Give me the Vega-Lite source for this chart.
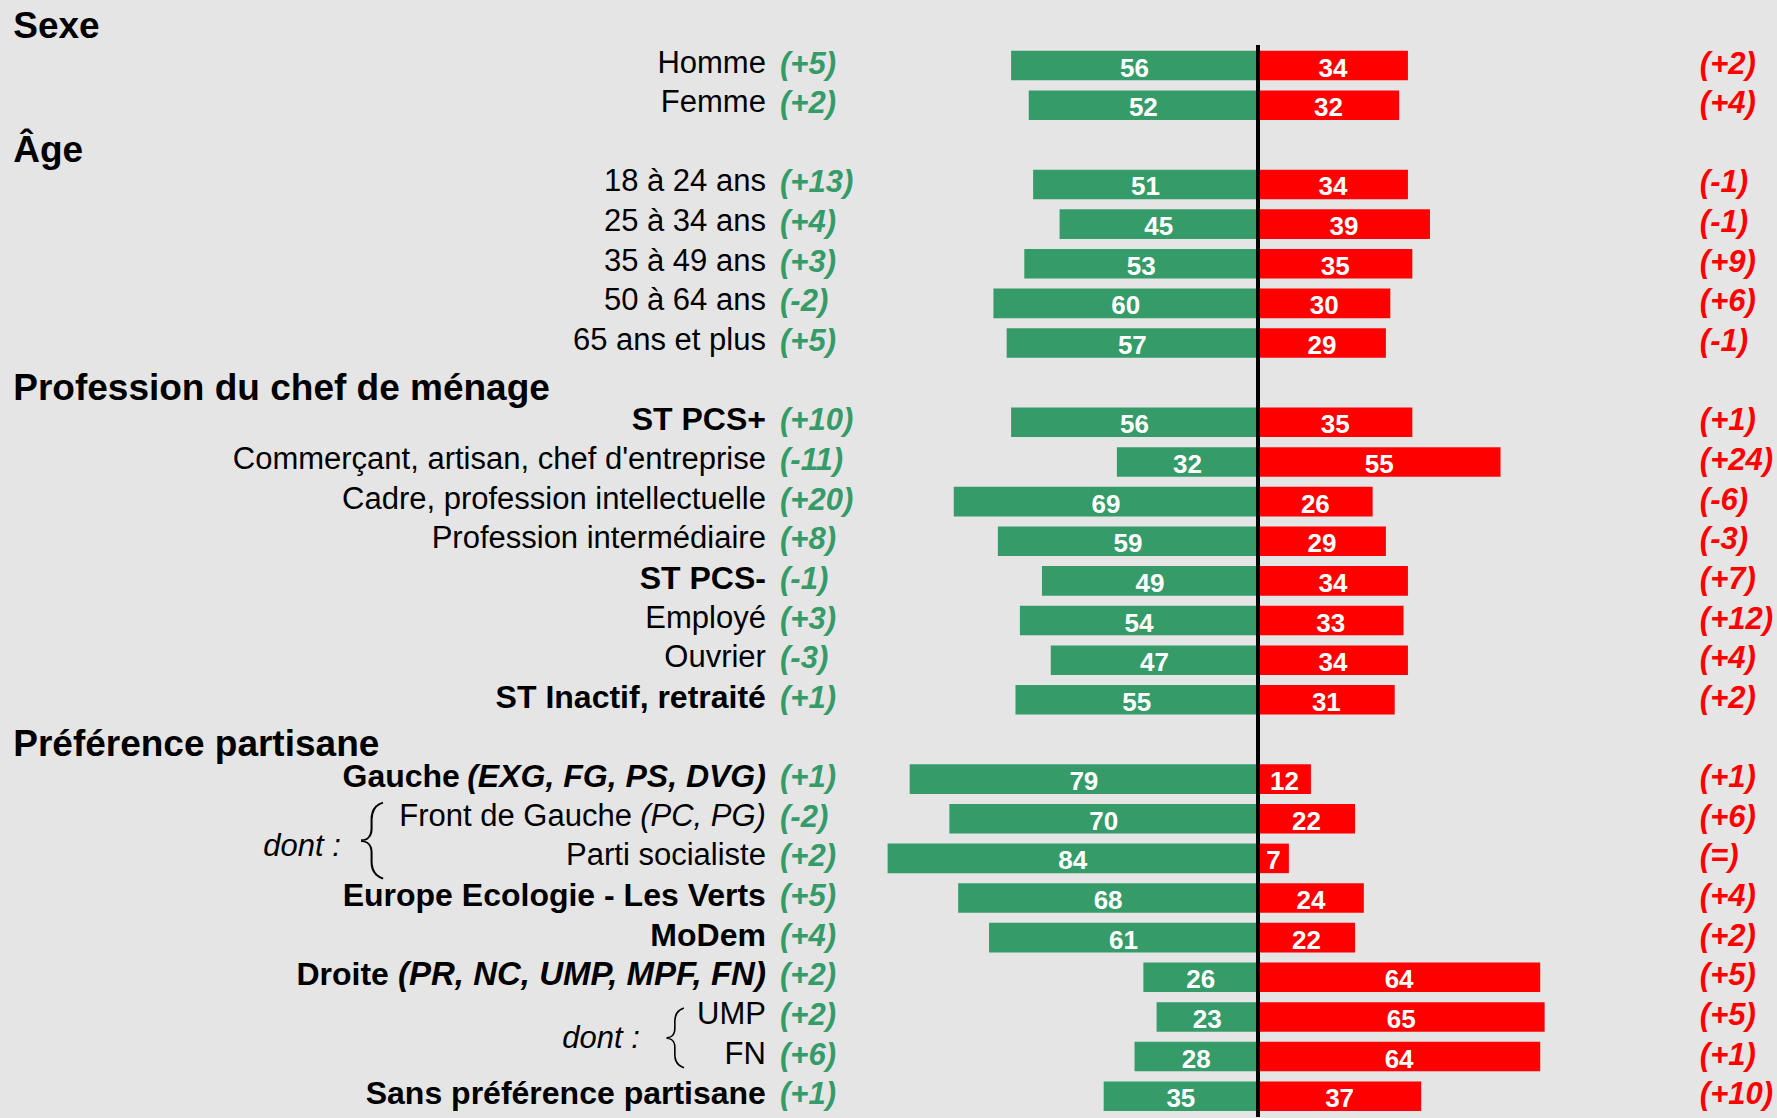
{
  "$schema": "https://vega.github.io/schema/vega-lite/v6.json",
  "width": 1777,
  "height": 1118,
  "autosize": {"type": "fit", "contains": "padding"},
  "padding": 0,
  "background": "#e5e5e5",
  "config": {"view": {"stroke": null}, "font": "Liberation Sans", "text": {"font": "Liberation Sans"}},
  "data": {"values": [
    {"row": 0, "kind": "header", "label": "Sexe"},
    {"row": 1, "kind": "item", "label": "Homme", "evoG": "(+5)", "green": 56, "red": 34, "evoR": "(+2)"},
    {"row": 2, "kind": "item", "label": "Femme", "evoG": "(+2)", "green": 52, "red": 32, "evoR": "(+4)"},
    {"row": 3, "kind": "header", "label": "Âge"},
    {"row": 4, "kind": "item", "label": "18 à 24 ans", "evoG": "(+13)", "green": 51, "red": 34, "evoR": "(-1)"},
    {"row": 5, "kind": "item", "label": "25 à 34 ans", "evoG": "(+4)", "green": 45, "red": 39, "evoR": "(-1)"},
    {"row": 6, "kind": "item", "label": "35 à 49 ans", "evoG": "(+3)", "green": 53, "red": 35, "evoR": "(+9)"},
    {"row": 7, "kind": "item", "label": "50 à 64 ans", "evoG": "(-2)", "green": 60, "red": 30, "evoR": "(+6)"},
    {"row": 8, "kind": "item", "label": "65 ans et plus", "evoG": "(+5)", "green": 57, "red": 29, "evoR": "(-1)"},
    {"row": 9, "kind": "header", "label": "Profession du chef de ménage"},
    {"row": 10, "kind": "total", "label": "ST PCS+", "evoG": "(+10)", "green": 56, "red": 35, "evoR": "(+1)"},
    {"row": 11, "kind": "item", "label": "Commerçant, artisan, chef d'entreprise", "evoG": "(-11)", "green": 32, "red": 55, "evoR": "(+24)"},
    {"row": 12, "kind": "item", "label": "Cadre, profession intellectuelle", "evoG": "(+20)", "green": 69, "red": 26, "evoR": "(-6)"},
    {"row": 13, "kind": "item", "label": "Profession intermédiaire", "evoG": "(+8)", "green": 59, "red": 29, "evoR": "(-3)"},
    {"row": 14, "kind": "total", "label": "ST PCS-", "evoG": "(-1)", "green": 49, "red": 34, "evoR": "(+7)"},
    {"row": 15, "kind": "item", "label": "Employé", "evoG": "(+3)", "green": 54, "red": 33, "evoR": "(+12)"},
    {"row": 16, "kind": "item", "label": "Ouvrier", "evoG": "(-3)", "green": 47, "red": 34, "evoR": "(+4)"},
    {"row": 17, "kind": "total", "label": "ST Inactif, retraité", "evoG": "(+1)", "green": 55, "red": 31, "evoR": "(+2)"},
    {"row": 18, "kind": "header", "label": "Préférence partisane"},
    {"row": 19, "kind": "total", "label": "Gauche", "paren": "(EXG, FG, PS, DVG)", "evoG": "(+1)", "green": 79, "red": 12, "evoR": "(+1)"},
    {"row": 20, "kind": "item", "label": "Front de Gauche", "paren": "(PC, PG)", "note": "dont :", "evoG": "(-2)", "green": 70, "red": 22, "evoR": "(+6)"},
    {"row": 21, "kind": "item", "label": "Parti socialiste", "evoG": "(+2)", "green": 84, "red": 7, "evoR": "(=)"},
    {"row": 22, "kind": "total", "label": "Europe Ecologie - Les Verts", "evoG": "(+5)", "green": 68, "red": 24, "evoR": "(+4)"},
    {"row": 23, "kind": "total", "label": "MoDem", "evoG": "(+4)", "green": 61, "red": 22, "evoR": "(+2)"},
    {"row": 24, "kind": "total", "label": "Droite", "paren": "(PR, NC, UMP, MPF, FN)", "evoG": "(+2)", "green": 26, "red": 64, "evoR": "(+5)"},
    {"row": 25, "kind": "item", "label": "UMP", "note": "dont :", "evoG": "(+2)", "green": 23, "red": 65, "evoR": "(+5)"},
    {"row": 26, "kind": "item", "label": "FN", "evoG": "(+6)", "green": 28, "red": 64, "evoR": "(+1)"},
    {"row": 27, "kind": "total", "label": "Sans préférence partisane", "evoG": "(+1)", "green": 35, "red": 37, "evoR": "(+10)"}
  ]},
  "encoding": {
    "y": {"field": "row", "type": "ordinal", "axis": null,
      "scale": {"domain": [0,1,2,3,4,5,6,7,8,9,10,11,12,13,14,15,16,17,18,19,20,21,22,23,24,25,26,27],
        "paddingInner": 0.254, "paddingOuter": 0.1655, "align": 0.848}}
  },
  "resolve": {"scale": {"x": "independent"}},
  "layer": [
    {
      "transform": [{"filter": "isValid(datum.green)"}],
      "mark": {"type": "bar", "color": "#359b69"},
      "encoding": {
        "x": {"field": "green", "type": "quantitative", "axis": null, "scale": {"domain": [-117.7, 285.3], "reverse": true, "nice": false, "zero": false}},
        "x2": {"datum": 0}
      }
    },
    {
      "transform": [{"filter": "isValid(datum.red)"}],
      "mark": {"type": "bar", "color": "#ff0000"},
      "encoding": {
        "x": {"field": "red", "type": "quantitative", "axis": null, "scale": {"domain": [-285.3, 117.7], "nice": false, "zero": false}},
        "x2": {"datum": 0}
      }
    },
    {
      "transform": [{"filter": "isValid(datum.green)"}],
      "mark": {"type": "text", "color": "#ffffff", "fontWeight": "bold", "fontSize": 26, "align": "center", "baseline": "middle", "dy": 3},
      "encoding": {
        "x": {"field": "green", "type": "quantitative", "axis": null, "scale": {"domain": [-235.4, 570.6], "reverse": true, "nice": false, "zero": false}},
        "text": {"field": "green", "type": "quantitative"}
      }
    },
    {
      "transform": [{"filter": "isValid(datum.red)"}],
      "mark": {"type": "text", "color": "#ffffff", "fontWeight": "bold", "fontSize": 26, "align": "center", "baseline": "middle", "dy": 3},
      "encoding": {
        "x": {"field": "red", "type": "quantitative", "axis": null, "scale": {"domain": [-570.6, 235.4], "nice": false, "zero": false}},
        "text": {"field": "red", "type": "quantitative"}
      }
    },
    {
      "encoding": {
        "x": {"datum": 0, "type": "quantitative", "axis": null, "scale": {"domain": [-285.3, 117.7], "nice": false, "zero": false}}
      },
      "layer": [
        {
          "mark": {"type": "rule", "color": "#000000", "strokeWidth": 3, "yOffset": -5, "y2Offset": 20},
          "encoding": {
            "y": {"datum": 1, "type": "ordinal", "bandPosition": 0},
            "y2": {"datum": 27}
          }
        },
        {
          "transform": [{"filter": "datum.kind === 'header' && datum.row === 0"}],
          "mark": {"type": "text", "align": "left", "baseline": "middle", "fontSize": 37, "fontWeight": "bold", "color": "#000000", "dy": 1},
          "encoding": {"x": {"datum": -282.3}, "text": {"field": "label"}}
        },
        {
          "transform": [{"filter": "datum.kind === 'header' && datum.row > 0"}],
          "mark": {"type": "text", "align": "left", "baseline": "middle", "fontSize": 37, "fontWeight": "bold", "color": "#000000", "dy": 6},
          "encoding": {"x": {"datum": -282.3}, "text": {"field": "label"}}
        },
        {
          "transform": [{"filter": "datum.kind === 'item' && !isValid(datum.paren)"}],
          "mark": {"type": "text", "align": "right", "baseline": "middle", "fontSize": 31, "color": "#000000", "dy": -2},
          "encoding": {"x": {"datum": -111.6}, "text": {"field": "label"}}
        },
        {
          "transform": [{"filter": "datum.kind === 'total' && !isValid(datum.paren)"}],
          "mark": {"type": "text", "align": "right", "baseline": "middle", "fontSize": 32, "fontWeight": "bold", "color": "#000000", "dy": -2},
          "encoding": {"x": {"datum": -111.6}, "text": {"field": "label"}}
        },
        {
          "transform": [{"filter": "datum.row === 19"}],
          "mark": {"type": "text", "align": "right", "baseline": "middle", "fontSize": 32, "fontWeight": "bold", "color": "#000000", "dy": -2, "dx": -306},
          "encoding": {"x": {"datum": -111.6}, "text": {"field": "label"}}
        },
        {
          "transform": [{"filter": "datum.row === 20"}],
          "mark": {"type": "text", "align": "right", "baseline": "middle", "fontSize": 31, "color": "#000000", "dy": -2, "dx": -134},
          "encoding": {"x": {"datum": -111.6}, "text": {"field": "label"}}
        },
        {
          "transform": [{"filter": "datum.row === 24"}],
          "mark": {"type": "text", "align": "right", "baseline": "middle", "fontSize": 32, "fontWeight": "bold", "color": "#000000", "dy": -2, "dx": -377},
          "encoding": {"x": {"datum": -111.6}, "text": {"field": "label"}}
        },
        {
          "transform": [{"filter": "datum.row === 19"}],
          "mark": {"type": "text", "align": "right", "baseline": "middle", "fontSize": 32, "fontWeight": "bold", "fontStyle": "italic", "color": "#000000", "dy": -2},
          "encoding": {"x": {"datum": -111.6}, "text": {"field": "paren"}}
        },
        {
          "transform": [{"filter": "datum.row === 24"}],
          "mark": {"type": "text", "align": "right", "baseline": "middle", "fontSize": 33, "fontWeight": "bold", "fontStyle": "italic", "color": "#000000", "dy": -2},
          "encoding": {"x": {"datum": -111.6}, "text": {"field": "paren"}}
        },
        {
          "transform": [{"filter": "isValid(datum.paren) && datum.kind === 'item'"}],
          "mark": {"type": "text", "align": "right", "baseline": "middle", "fontSize": 31, "fontStyle": "italic", "color": "#000000", "dy": -2},
          "encoding": {"x": {"datum": -111.6}, "text": {"field": "paren"}}
        },
        {
          "transform": [{"filter": "isValid(datum.evoG)"}],
          "mark": {"type": "text", "align": "left", "baseline": "middle", "fontSize": 31, "fontWeight": "bold", "fontStyle": "italic", "color": "#359b69", "dy": -1},
          "encoding": {"x": {"datum": -108.4}, "text": {"field": "evoG"}}
        },
        {
          "transform": [{"filter": "isValid(datum.evoR)"}],
          "mark": {"type": "text", "align": "left", "baseline": "middle", "fontSize": 31, "fontWeight": "bold", "fontStyle": "italic", "color": "#ff0000", "dy": -1},
          "encoding": {"x": {"datum": 100.2}, "text": {"field": "evoR"}}
        },
        {
          "transform": [{"filter": "datum.row === 20"}],
          "mark": {"type": "text", "align": "right", "baseline": "middle", "fontSize": 31, "fontStyle": "italic", "color": "#000000", "dy": 28},
          "encoding": {"x": {"datum": -208.0}, "text": {"field": "note"}}
        },
        {
          "transform": [{"filter": "datum.row === 25"}],
          "mark": {"type": "text", "align": "right", "baseline": "middle", "fontSize": 31, "fontStyle": "italic", "color": "#000000", "dy": 22},
          "encoding": {"x": {"datum": -140.2}, "text": {"field": "note"}}
        },
        {
          "transform": [{"filter": "datum.row === 20"}],
          "mark": {"type": "text", "align": "center", "baseline": "middle", "fontSize": 78, "font": "Roboto", "fontWeight": 100, "color": "#000000", "dy": 21, "text": "{"},
          "encoding": {"x": {"datum": -201.2}}
        },
        {
          "transform": [{"filter": "datum.row === 25"}],
          "mark": {"type": "text", "align": "center", "baseline": "middle", "fontSize": 62, "font": "Roboto", "fontWeight": 100, "color": "#000000", "dy": 19, "text": "{"},
          "encoding": {"x": {"datum": -132.4}}
        }
      ]
    }
  ]
}
